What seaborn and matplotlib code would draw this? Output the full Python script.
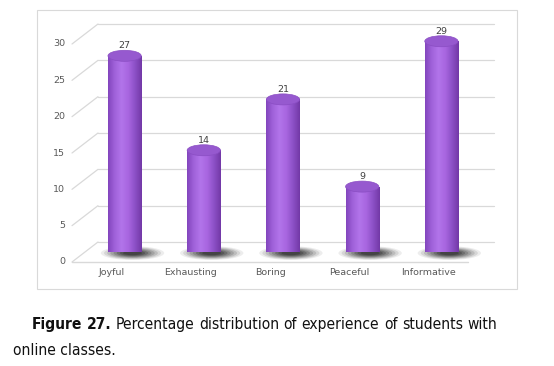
import numpy as np
import pandas as pd
import matplotlib
matplotlib.use('Agg')
import matplotlib.pyplot as plt
import matplotlib.transforms as mtransforms
from matplotlib.patches import Ellipse, Rectangle
from matplotlib.colors import LinearSegmentedColormap
import seaborn as sns

categories = ['Joyful', 'Exhausting', 'Boring', 'Peaceful', 'Informative']
values = [27, 14, 21, 9, 29]
y_ticks = [0, 5, 10, 15, 20, 25, 30]
caption_label = 'Figure 27.'
caption_line1 = 'Percentage distribution of experience of students with'
caption_line2 = 'online classes.'

df = pd.DataFrame({'experience': categories, 'percent': values})

sns.set_theme(style='white')
plt.rcParams['font.family'] = ['DejaVu Sans']

DPI = 100
fig = plt.figure(figsize=(5.54, 3.66), dpi=DPI)

# outer chart frame
fig.patches.append(Rectangle((37 / 554, 1 - 289 / 366), 480 / 554, 279 / 366,
                             transform=fig.transFigure, fill=False,
                             edgecolor='#d9d9d9', lw=0.8))

# axes at the "middle" depth plane (where the bars stand)
ax = fig.add_axes([85 / 554, 1 - 252 / 366, 396 / 554, 218 / 366])
sns.barplot(data=df, x='experience', y='percent', color='#a86be0',
            width=0.42, ax=ax, zorder=3)
ax.set_ylim(0, 30)
ax.set_xlim(-0.5, len(categories) - 0.5)
ax.axis('off')

depth = 13, 10  # px shift between middle plane and back/front plane
back = mtransforms.offset_copy(ax.transData, fig=fig, x=depth[0], y=depth[1], units='dots')
front = mtransforms.offset_copy(ax.transData, fig=fig, x=-depth[0], y=-depth[1], units='dots')

x0, x1 = ax.get_xlim()
for v in y_ticks:
    ax.plot([x0, x1], [v, v], transform=back, color='#d9d9d9', lw=0.9,
            clip_on=False, zorder=0)
    p_front = front.transform((x0, v))
    p_back = back.transform((x0, v))
    ax.add_line(plt.Line2D([p_front[0], p_back[0]], [p_front[1], p_back[1]],
                           transform=mtransforms.IdentityTransform(),
                           color='#d9d9d9', lw=0.9, clip_on=False, zorder=0))
    ax.text(x0, v, str(v), transform=mtransforms.offset_copy(front, fig=fig, x=-7, y=0, units='dots'),
            ha='right', va='center', fontsize=6.8, color='#595959')

# floor front edge
ax.plot([x0, x1], [0, 0], transform=front, color='#d9d9d9', lw=1.0,
        clip_on=False, zorder=1)

for i, name in enumerate(categories):
    ax.text(i, 0, name, transform=mtransforms.offset_copy(front, fig=fig, x=0, y=-6, units='dots'),
            ha='center', va='top', fontsize=6.8, color='#595959')

# cylinder look for each bar
cyl = LinearSegmentedColormap.from_list(
    'cyl', ['#8245bd', '#a062da', '#b274ea', '#a866e0', '#8c50c6', '#7238a6'])
grad = np.linspace(0, 1, 256).reshape(1, -1)
px_per_unit = 218 / 30
ell_h = 11 / px_per_unit

for bar, v in zip(ax.patches, values):
    bx, bw = bar.get_x(), bar.get_width()
    cx = bx + bw / 2
    bar.set_facecolor('none')
    bar.set_edgecolor('none')

    # soft floor shadow
    for k, a in zip(np.linspace(1.0, 0.3, 8), [0.08, 0.11, 0.14, 0.17, 0.2, 0.25, 0.3, 0.35]):
        ax.add_patch(Ellipse((cx + 0.1, -0.15), width=0.8 * k, height=1.9 * k,
                             facecolor='#222222', edgecolor='none', alpha=a,
                             zorder=2, clip_on=False))

    im = ax.imshow(grad, cmap=cyl, aspect='auto', extent=(bx, bx + bw, -ell_h / 2, v),
                   zorder=4)
    im.set_clip_path(Rectangle((bx, 0), bw, v, transform=ax.transData))
    im2 = ax.imshow(grad, cmap=cyl, aspect='auto', extent=(bx, bx + bw, -ell_h / 2, v),
                    zorder=4)
    im2.set_clip_path(Ellipse((cx, 0), bw, ell_h, transform=ax.transData))

    ax.add_patch(Ellipse((cx, v), bw, ell_h, angle=0, facecolor='#9659cf',
                         edgecolor='#8a4dc3', lw=0.5, zorder=5, clip_on=False))
    ax.text(cx, v + ell_h / 2, str(v), ha='center', va='bottom', fontsize=6.8,
            color='#404040', zorder=6)

ax.set_xlim(-0.5, len(categories) - 0.5)
ax.set_ylim(0, 30)

# caption, first line justified between x=32 and x=497 px
cap_font = dict(family='DejaVu Sans', fontstretch='condensed', fontsize=11.2,
                color='#111111', va='baseline', ha='left')
renderer = fig.canvas.get_renderer()
words = [(w, 'bold') for w in caption_label.split()] + \
        [(w, 'normal') for w in caption_line1.split()]
arts = []
for w, wt in words:
    t = fig.text(0, 1 - 329 / 366, w, fontweight=wt, **cap_font)
    arts.append(t)
widths = [t.get_window_extent(renderer).width for t in arts]
left, right = 32, 497
gap = (right - left - sum(widths)) / (len(arts) - 1)
xpos = left
for t, w in zip(arts, widths):
    t.set_x(xpos / 554)
    xpos += w + gap
fig.text(13 / 554, 1 - 355 / 366, caption_line2, **cap_font)

fig.savefig('out.png', dpi=DPI)
